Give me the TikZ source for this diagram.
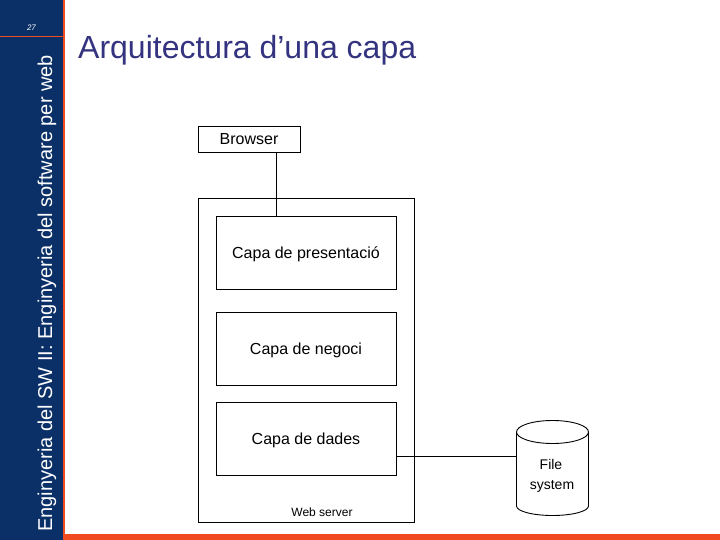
\documentclass[tikz,border=0pt]{standalone}
\usepackage{fontspec}
\setmainfont{Liberation Sans}
\definecolor{navy}{HTML}{0B3068}
\definecolor{accent}{HTML}{F04A1E}
\definecolor{titlec}{HTML}{333380}
\tikzset{
  boxn/.style={draw=black,line width=0.9pt,fill=white,minimum width=180pt,minimum height=73pt,inner sep=0pt},
  lab/.style={font=\fontsize{16}{19}\selectfont,inner sep=0pt},
  wire/.style={draw=black,line width=0.9pt},
}
\begin{document}
\begin{tikzpicture}[x=1pt,y=-1pt]
\useasboundingbox (0,0) rectangle (720,540);
\fill[white] (0,0) rectangle (720,540);
\fill[navy] (0,0) rectangle (63,540);
\fill[accent] (63,0) rectangle (65,540);
\fill[accent] (63,534) rectangle (720,540);
\fill[accent] (0,36) rectangle (63,37);
\node[text=white,font=\fontsize{8}{9}\selectfont\itshape,inner sep=0pt] (num) at (31.5,28) {27};
\node[text=white,rotate=90,font=\fontsize{20}{24}\selectfont,inner sep=0pt,anchor=west] (side) at (47,532) {Enginyeria del SW II: Enginyeria del software per web};
\node[text=titlec,font=\fontsize{32}{38}\selectfont,inner sep=0pt,anchor=west] (title) at (78,50.5) {Arquitectura d’una capa};
\node[draw=black,line width=0.9pt,fill=white,minimum width=216pt,minimum height=324pt,inner sep=0pt] (server) at (306,360) {};
\node[draw=black,line width=0.9pt,fill=white,minimum width=102pt,minimum height=25.5pt,inner sep=0pt] (browser) at (249.5,139.3) {};
\node[lab] (browsert) at (249,139.5) {Browser};
\node[boxn] (pres) at (306,253) {};
\node[lab] (prest) at (306,254.5) {Capa de presentació};
\node[boxn] (neg) at (306,348.5) {};
\node[lab] (negt) at (306,350) {Capa de negoci};
\node[boxn] (dad) at (306,438.5) {};
\node[lab] (dadt) at (306,440) {Capa de dades};
\node[font=\fontsize{12}{14}\selectfont,inner sep=0pt] (ws) at (322,512.5) {Web server};
% cylinder
\coordinate (cylw) at (516.5,456.5);
\draw[wire,fill=white] (516.5,432) arc[x radius=36,y radius=11.5,start angle=180,end angle=360] -- (588.5,506) arc[x radius=36,y radius=9.5,start angle=0,end angle=180] -- cycle;
\draw[wire] (516.5,432) arc[x radius=36,y radius=11.5,start angle=180,end angle=0];
\node[font=\fontsize{14}{17}\selectfont,inner sep=0pt] (fs1) at (551,464) {File};
\node[font=\fontsize{14}{17}\selectfont,inner sep=0pt] (fs2) at (552,486.5) {system};
\draw[wire] (browser.south -| 276.5,0) -- (pres.north -| 276.5,0);
\draw[wire] (dad.east |- cylw) -- (cylw);
\end{tikzpicture}
\end{document}
